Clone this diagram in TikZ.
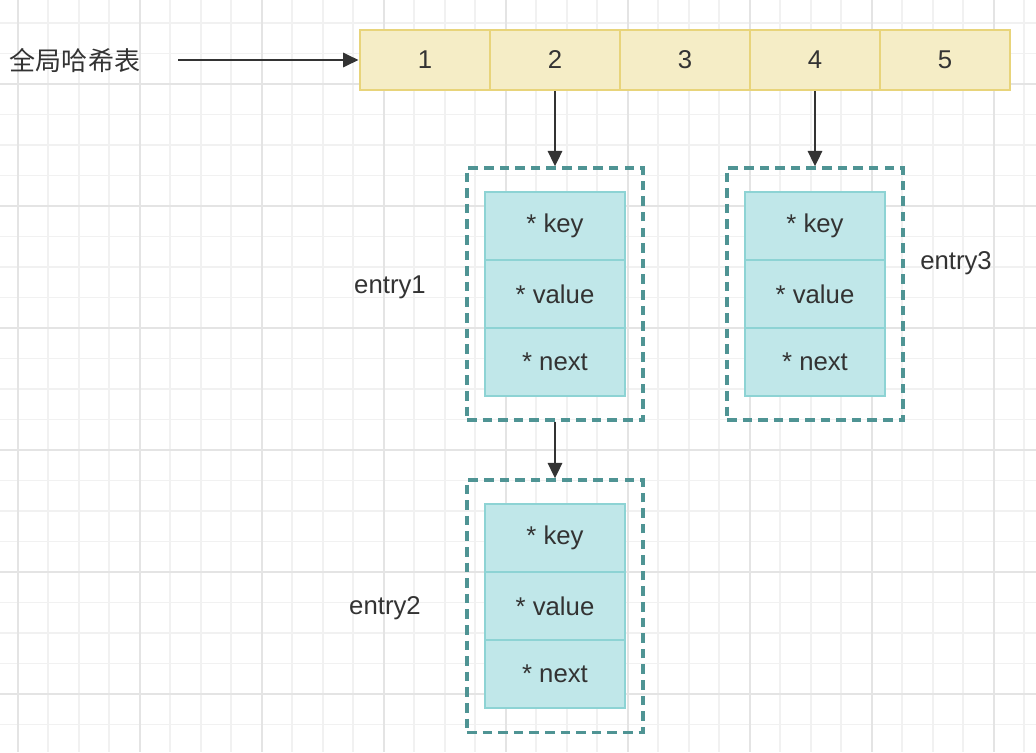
\documentclass[tikz,border=0pt]{standalone}
\usepackage{fontspec}
\setmainfont{Liberation Sans}
\newfontfamily\cjk{Noto Sans CJK SC}
\usetikzlibrary{arrows.meta}

\definecolor{txt}{HTML}{333333}
\definecolor{gridminor}{HTML}{F1F1F1}
\definecolor{gridmajor}{HTML}{E4E4E4}
\definecolor{cellfill}{HTML}{F5EDC6}
\definecolor{celldraw}{HTML}{E8D47A}
\definecolor{fieldfill}{HTML}{C0E7E9}
\definecolor{fielddraw}{HTML}{8DD3D4}
\definecolor{framedraw}{HTML}{4F9494}

\tikzset{
  cell/.style={draw=celldraw, fill=cellfill, line width=2pt,
    minimum width=3.25cm, minimum height=1.5cm, inner sep=0pt, text=txt},
  field/.style={draw=fielddraw, fill=fieldfill, line width=2pt,
    minimum width=3.5cm, minimum height=1.7cm, inner sep=0pt, text=txt},
  entrybox/.style={draw=framedraw, line width=2.2pt, dash pattern=on 6.8pt off 4.3pt,
    minimum width=4.4cm, minimum height=6.3cm, inner sep=0pt},
  tag/.style={text=txt, inner sep=0pt},
  link/.style={draw=txt, line width=2pt, -{Triangle[width=10pt,length=11pt]}}
}

\begin{document}
\begin{tikzpicture}[x=0.025cm, y=-0.025cm, font=\fontsize{18.3}{22}\selectfont]
    \useasboundingbox (0,0) rectangle (1036,752);
    % background grid
    \foreach \i in {-1,...,33}
        \draw[gridminor, line width=1.2pt] (17.7+30.5*\i,0) -- (17.7+30.5*\i,752);
    \foreach \j in {-2,...,21}
        \draw[gridminor, line width=1.2pt] (0,84+30.5*\j) -- (1036,84+30.5*\j);
    \foreach \i in {0,4,...,32}
        \draw[gridmajor, line width=1.4pt] (17.7+30.5*\i,0) -- (17.7+30.5*\i,752);
    \foreach \j in {0,4,...,20}
        \draw[gridmajor, line width=1.4pt] (0,84+30.5*\j) -- (1036,84+30.5*\j);

    % hash table
    \node[tag] (tlabel) at (75,61) {\cjk\fontsize{18.5}{22}\selectfont 全局哈希表};
    \foreach \n/\x in {1/425, 2/555, 3/685, 4/815, 5/945}
        \node[cell] (c\n) at (\x,60) {\n};
    \coordinate (tstart) at (178,60);
    \draw[link] (tstart) -- (c1.west);

    % entries
    \foreach \e/\x/\y in {1/555/294, 2/555/606, 3/815/294}{
        \node[entrybox] (e\e) at (\x,\y) {};
        \node[field] (e\e key) at (\x,\y-68) {* key};
        \node[field] (e\e val) at (\x,\y) {* value};
        \node[field] (e\e nxt) at (\x,\y+68) {* next};
    }
    \node[tag] (e1lab) at (390,287) {entry1};
    \node[tag] (e2lab) at (385,608) {entry2};
    \node[tag] (e3lab) at (956,263) {entry3};

    % pointers
    \draw[link] (c2.south) -- (e1.north);
    \draw[link] (c4.south) -- (e3.north);
    \draw[link] (e1.south) -- (e2.north);
\end{tikzpicture}
\end{document}
